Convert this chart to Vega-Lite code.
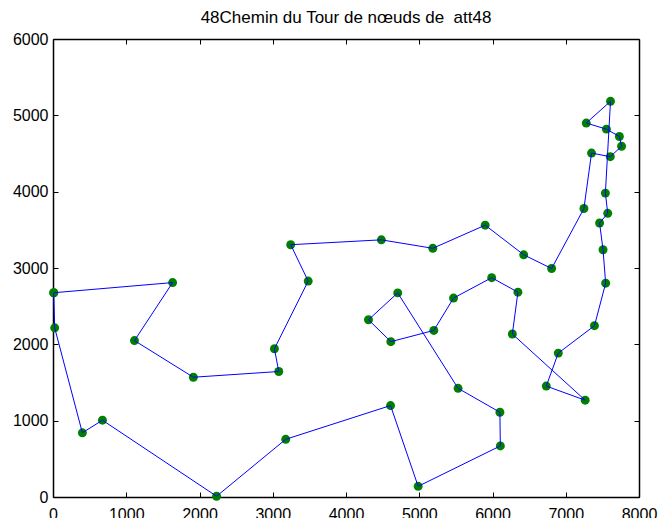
{
  "$schema": "https://vega.github.io/schema/vega-lite/v6.json",
  "autosize": {"type": "none"},
  "width": 586,
  "height": 458,
  "padding": {"left": 53, "top": 39, "right": 19, "bottom": 21},
  "background": "white",
  "title": {
    "text": "48Chemin du Tour de nœuds de \u00a0att48",
    "font": "Liberation Sans",
    "fontSize": 17,
    "fontWeight": "normal",
    "color": "black",
    "anchor": "middle",
    "baseline": "alphabetic",
    "offset": 14,
    "dy": 23
  },
  "config": {
    "view": {"stroke": null},
    "axis": {
      "domainColor": "black",
      "domainWidth": 1.5,
      "tickColor": "black",
      "tickSize": -5,
      "grid": false,
      "labelFlush": false,
      "labelFont": "Liberation Sans",
      "labelFontSize": 16,
      "labelColor": "black",
      "title": null
    }
  },
  "data": {
    "values": [
      {"seq": 1, "city": 45, "x": 10, "y": 2676},
      {"seq": 2, "city": 24, "x": 1633, "y": 2809},
      {"seq": 3, "city": 10, "x": 1112, "y": 2049},
      {"seq": 4, "city": 42, "x": 1916, "y": 1569},
      {"seq": 5, "city": 5, "x": 3082, "y": 1644},
      {"seq": 6, "city": 48, "x": 3023, "y": 1942},
      {"seq": 7, "city": 39, "x": 3484, "y": 2829},
      {"seq": 8, "city": 32, "x": 3245, "y": 3305},
      {"seq": 9, "city": 21, "x": 4483, "y": 3369},
      {"seq": 10, "city": 47, "x": 5185, "y": 3258},
      {"seq": 11, "city": 20, "x": 5900, "y": 3561},
      {"seq": 12, "city": 33, "x": 6426, "y": 3173},
      {"seq": 13, "city": 46, "x": 6807, "y": 2993},
      {"seq": 14, "city": 36, "x": 7248, "y": 3779},
      {"seq": 15, "city": 30, "x": 7352, "y": 4506},
      {"seq": 16, "city": 6, "x": 7608, "y": 4458},
      {"seq": 17, "city": 37, "x": 7762, "y": 4595},
      {"seq": 18, "city": 19, "x": 7732, "y": 4723},
      {"seq": 19, "city": 27, "x": 7555, "y": 4819},
      {"seq": 20, "city": 43, "x": 7280, "y": 4899},
      {"seq": 21, "city": 17, "x": 7611, "y": 5184},
      {"seq": 22, "city": 28, "x": 7541, "y": 3981},
      {"seq": 23, "city": 7, "x": 7573, "y": 3716},
      {"seq": 24, "city": 18, "x": 7462, "y": 3590},
      {"seq": 25, "city": 44, "x": 7509, "y": 3239},
      {"seq": 26, "city": 31, "x": 7545, "y": 2801},
      {"seq": 27, "city": 38, "x": 7392, "y": 2244},
      {"seq": 28, "city": 9, "x": 6898, "y": 1885},
      {"seq": 29, "city": 1, "x": 6734, "y": 1453},
      {"seq": 30, "city": 8, "x": 7265, "y": 1268},
      {"seq": 31, "city": 40, "x": 6271, "y": 2135},
      {"seq": 32, "city": 15, "x": 6347, "y": 2683},
      {"seq": 33, "city": 12, "x": 5989, "y": 2873},
      {"seq": 34, "city": 11, "x": 5468, "y": 2606},
      {"seq": 35, "city": 23, "x": 5199, "y": 2182},
      {"seq": 36, "city": 14, "x": 4612, "y": 2035},
      {"seq": 37, "city": 25, "x": 4307, "y": 2322},
      {"seq": 38, "city": 13, "x": 4706, "y": 2674},
      {"seq": 39, "city": 3, "x": 5530, "y": 1424},
      {"seq": 40, "city": 22, "x": 6101, "y": 1110},
      {"seq": 41, "city": 16, "x": 6107, "y": 669},
      {"seq": 42, "city": 41, "x": 4985, "y": 140},
      {"seq": 43, "city": 34, "x": 4608, "y": 1198},
      {"seq": 44, "city": 29, "x": 3177, "y": 756},
      {"seq": 45, "city": 2, "x": 2233, "y": 10},
      {"seq": 46, "city": 26, "x": 675, "y": 1006},
      {"seq": 47, "city": 4, "x": 401, "y": 841},
      {"seq": 48, "city": 35, "x": 23, "y": 2216},
      {"seq": 49, "city": 45, "x": 10, "y": 2676}
    ]
  },
  "resolve": {"axis": {"x": "independent", "y": "independent"}},
  "layer": [
    {
      "mark": {"type": "circle", "size": 80, "color": "#008000", "opacity": 1, "clip": false},
      "encoding": {
        "x": {"field": "x", "type": "quantitative", "scale": {"domain": [0, 8000], "nice": false},
              "axis": {"orient": "bottom", "values": [0,1000,2000,3000,4000,5000,6000,7000,8000], "format": "d", "labelPadding": 14}},
        "y": {"field": "y", "type": "quantitative", "scale": {"domain": [0, 6000], "nice": false},
              "axis": {"orient": "left", "values": [0,1000,2000,3000,4000,5000,6000], "format": "d", "labelPadding": 10}}
      }
    },
    {
      "mark": {"type": "line", "color": "#0000ff", "strokeWidth": 1, "clip": false},
      "encoding": {
        "x": {"field": "x", "type": "quantitative", "axis": {"orient": "top", "values": [0,1000,2000,3000,4000,5000,6000,7000,8000], "labels": false}},
        "y": {"field": "y", "type": "quantitative", "axis": {"orient": "right", "values": [0,1000,2000,3000,4000,5000,6000], "labels": false}},
        "order": {"field": "seq", "type": "quantitative"}
      }
    }
  ]
}
